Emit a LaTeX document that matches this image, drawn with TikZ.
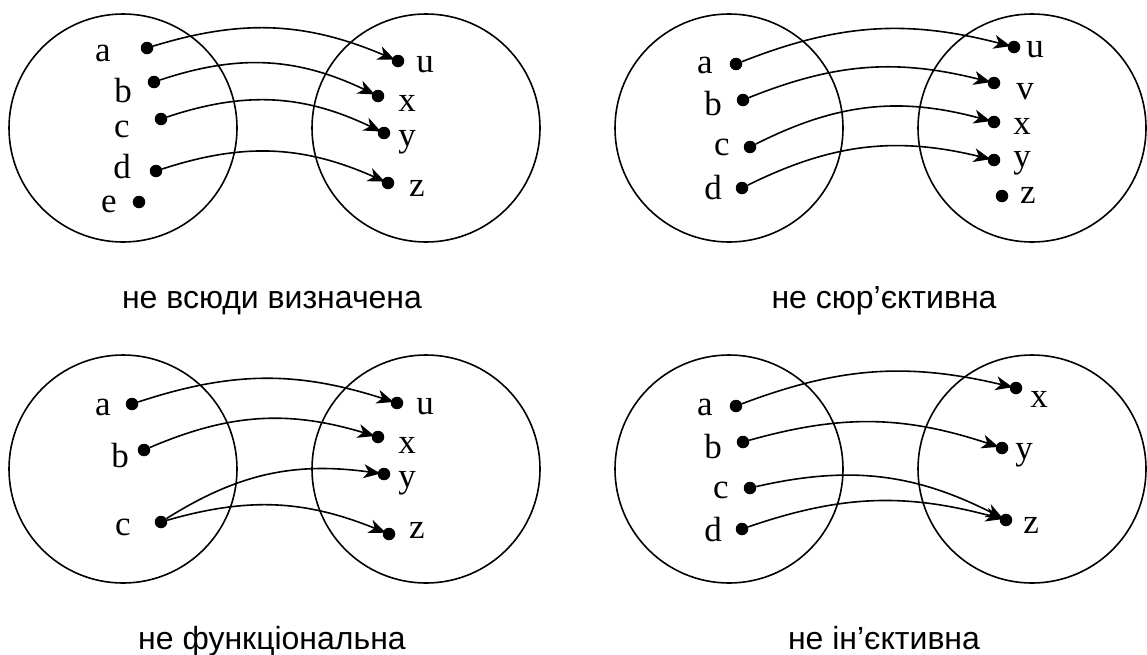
\documentclass[tikz,border=0pt]{standalone}
\usepackage{fontspec}
\setmainfont{Liberation Serif}
\newfontfamily\capfont{Liberation Sans}
\usetikzlibrary{arrows.meta}
\begin{document}
\begin{tikzpicture}[x=1pt,y=-1pt,
  setc/.style={draw,circle,line width=1.6pt,minimum size=228pt,inner sep=0pt},
  pt/.style={circle,fill,inner sep=0pt,minimum size=12.5pt},
  lbl/.style={inner sep=0pt,font=\fontsize{35}{37}\selectfont},
  captxt/.style={inner sep=0pt,anchor=base,font=\capfont\fontsize{32}{36}\selectfont},
  map/.style={line width=1.6pt,shorten >=-3pt,-{Stealth[length=17pt,width=14pt,inset=5pt]}}]
\useasboundingbox (0,0) rectangle (1147,654);
% ---------- diagram 1 ----------
\node[setc] (L1) at (123,128) {};
\node[setc] (R1) at (426,128) {};
\node[pt] (a1) at (147,48) {}; \node[lbl] (la1) at (103,53) {a};
\node[pt] (b1) at (154,82) {}; \node[lbl] (lb1) at (123,91) {b};
\node[pt] (c1) at (161,119) {}; \node[lbl] (lc1) at (122,129) {c};
\node[pt] (d1) at (156,171) {}; \node[lbl] (ld1) at (122,167) {d};
\node[pt] (e1) at (139,202) {}; \node[lbl] (le1) at (109,204) {e};
\node[pt] (u1) at (398,61) {}; \node[lbl] (lu1) at (425,65) {u};
\node[pt] (x1) at (378,96) {}; \node[lbl] (lx1) at (407,103) {x};
\node[pt] (y1) at (384,133) {}; \node[lbl] (ly1) at (407,142) {y};
\node[pt] (z1) at (388,183) {}; \node[lbl] (lz1) at (417,188) {z};
\draw[map] (a1) to[bend left=20] (u1);
\draw[map] (b1) to[bend left=22] (x1);
\draw[map] (c1) to[bend left=22] (y1);
\draw[map] (d1) to[bend left=21] (z1);
\node[captxt] (cap1) at (272,308) {не всюди визначена};
% ---------- diagram 2 ----------
\node[setc] (L2) at (729,128) {};
\node[setc] (R2) at (1032,128) {};
\node[pt] (a2) at (736,64) {}; \node[lbl] (la2) at (705,65) {a};
\node[pt] (b2) at (743,100) {}; \node[lbl] (lb2) at (713,104) {b};
\node[pt] (c2) at (750,147) {}; \node[lbl] (lc2) at (722,147) {c};
\node[pt] (d2) at (742,188) {}; \node[lbl] (ld2) at (713,188) {d};
\node[pt] (u2) at (1014,47) {}; \node[lbl] (lu2) at (1035,50) {u};
\node[pt] (v2) at (994,83) {}; \node[lbl] (lv2) at (1025,92) {v};
\node[pt] (x2) at (994,122) {}; \node[lbl] (lx2) at (1022,126) {x};
\node[pt] (y2) at (994,160) {}; \node[lbl] (ly2) at (1022,163) {y};
\node[pt] (z2) at (1002,196) {}; \node[lbl] (lz2) at (1028,195) {z};
\draw[map] (a2) to[bend left=18] (u2);
\draw[map] (b2) to[bend left=18] (v2);
\draw[map] (c2) to[bend left=21] (x2);
\draw[map] (d2) to[bend left=20] (y2);
\node[captxt] (cap2) at (884,308) {не сюр’єктивна};
% ---------- diagram 3 ----------
\node[setc] (L3) at (123,469) {};
\node[setc] (R3) at (426,469) {};
\node[pt] (a3) at (132,404) {}; \node[lbl] (la3) at (103,407) {a};
\node[pt] (b3) at (144,450) {}; \node[lbl] (lb3) at (120,456) {b};
\node[pt] (c3) at (161,522) {}; \node[lbl] (lc3) at (123,527) {c};
\node[pt] (u3) at (397,403) {}; \node[lbl] (lu3) at (425,407) {u};
\node[pt] (x3) at (378,437) {}; \node[lbl] (lx3) at (407,445) {x};
\node[pt] (y3) at (384,474) {}; \node[lbl] (ly3) at (407,483) {y};
\node[pt] (z3) at (389,534) {}; \node[lbl] (lz3) at (417,530) {z};
\draw[map] (a3) to[bend left=18] (u3);
\draw[map] (b3) to[bend left=20] (x3);
\draw[map] (c3) to[bend left=20] (y3);
\draw[map] (c3) to[bend left=19] (z3);
\node[captxt] (cap3) at (272,649) {не функціональна};
% ---------- diagram 4 ----------
\node[setc] (L4) at (729,469) {};
\node[setc] (R4) at (1032,469) {};
\node[pt] (a4) at (736,406) {}; \node[lbl] (la4) at (705,407) {a};
\node[pt] (b4) at (743,442) {}; \node[lbl] (lb4) at (713,447) {b};
\node[pt] (c4) at (750,488) {}; \node[lbl] (lc4) at (721,490) {c};
\node[pt] (d4) at (742,529) {}; \node[lbl] (ld4) at (713,530) {d};
\node[pt] (x4) at (1016,388) {}; \node[lbl] (lx4) at (1039,399) {x};
\node[pt] (y4) at (1002,448) {}; \node[lbl] (ly4) at (1024,455) {y};
\node[pt] (z4) at (1006,520) {}; \node[lbl] (lz4) at (1031,525) {z};
\draw[map] (a4) to[bend left=17] (x4);
\draw[map] (b4) to[bend left=17] (y4);
\draw[map] (c4) to[bend left=20] (z4);
\draw[map] (d4) to[bend left=17] (z4);
\node[captxt] (cap4) at (884,649) {не ін’єктивна};
\end{tikzpicture}
\end{document}
